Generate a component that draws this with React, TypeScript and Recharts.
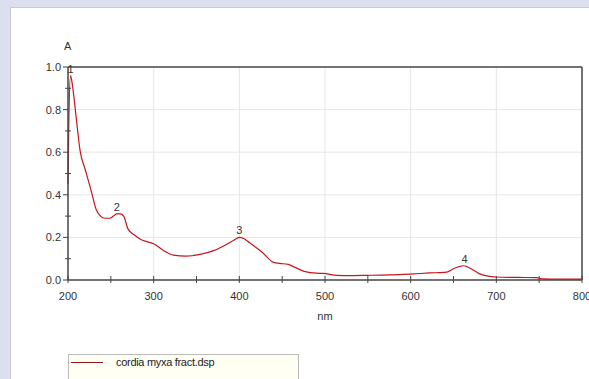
import { LineChart, Line, XAxis, YAxis, ReferenceLine, ReferenceDot, Label } from 'recharts';

// wavelength (nm) and absorbance
const wavelengths = [200, 201, 203, 205, 208, 211, 214, 220, 227, 233, 238, 243, 249, 253, 257, 261, 265, 270, 278, 285, 292, 300, 311, 323, 338, 354, 370, 385, 393, 400, 405, 412, 426, 440, 447, 457, 463, 470, 477, 490, 498, 514, 530, 549, 575, 599, 622, 642, 650, 656, 662, 667, 673, 680, 689, 700, 725, 747, 754, 775, 800];
const absorbance = [0.45, 0.75, 0.96, 0.92, 0.82, 0.71, 0.61, 0.52, 0.42, 0.33, 0.3, 0.29, 0.29, 0.3, 0.31, 0.31, 0.3, 0.24, 0.21, 0.19, 0.18, 0.17, 0.14, 0.117, 0.112, 0.12, 0.138, 0.167, 0.185, 0.2, 0.195, 0.175, 0.133, 0.083, 0.078, 0.073, 0.063, 0.05, 0.039, 0.032, 0.031, 0.022, 0.021, 0.022, 0.024, 0.028, 0.033, 0.037, 0.053, 0.062, 0.067, 0.06, 0.047, 0.03, 0.019, 0.014, 0.012, 0.011, 0.005, 0.004, 0.004];

const peakNm = [203, 257, 400, 663];
const peakA = [0.96, 0.31, 0.2, 0.067];
const peakLabels = ['1', '2', '3', '4'];

const xTicks = [200, 250, 300, 350, 400, 450, 500, 550, 600, 650, 700, 750, 800];
const yTicks = [0, 0.1, 0.2, 0.3, 0.4, 0.5, 0.6, 0.7, 0.8, 0.9, 1.0];
const xGrid = [300, 400, 500, 600, 700];
const yGrid = [0.2, 0.4, 0.6, 0.8];

const seriesName = 'cordia myxa fract.dsp';

const data = wavelengths.map((nm, i) => ({ nm, a: absorbance[i] }));

const FONT = '"Liberation Sans", Arial, sans-serif';
const AXIS = '#444';
const CURVE = '#c8161d';

const XTick = (props: any) => {
  const { x, y, payload } = props;
  const major = payload.value % 100 === 0;
  return (
    <g>
      <line x1={x} y1={y - 4} x2={x} y2={y + 3} stroke={AXIS} />
      {major && (
        <text x={x} y={y + 20} textAnchor="middle" fontSize={11} fill="#333" fontFamily={FONT}>
          {payload.value}
        </text>
      )}
    </g>
  );
};

const YTick = (props: any) => {
  const { x, y, payload } = props;
  const major = Math.round(payload.value * 10) % 2 === 0;
  return (
    <g>
      {major ? (
        <line x1={x} y1={y} x2={x - 5} y2={y} stroke={AXIS} />
      ) : (
        <line x1={x - 3} y1={y} x2={x + 3} y2={y} stroke={AXIS} />
      )}
      {major && (
        <text x={x - 7} y={y + 4} textAnchor="end" fontSize={11} fill="#333" fontFamily={FONT}>
          {payload.value.toFixed(1)}
        </text>
      )}
    </g>
  );
};

export default function App() {
  return (
    <div style={{ position: 'absolute', left: 0, top: 0, width: 589, height: 379, background: '#dcdfee', overflow: 'hidden' }}>
      <div style={{ position: 'absolute', left: 10, top: 7, width: 590, height: 380, background: '#fff', border: '1px solid #c8c8d0' }} />
      <div style={{ position: 'absolute', left: 0, top: 0 }}>
        <LineChart width={589} height={379} data={data} margin={{ top: 67, right: 7, bottom: 59, left: 28 }}>
          {xGrid.map((v) => (
            <ReferenceLine key={'gx' + v} x={v} stroke="#e6e6e6" />
          ))}
          {yGrid.map((v) => (
            <ReferenceLine key={'gy' + v} y={v} stroke="#e6e6e6" />
          ))}
          <ReferenceLine y={1.0} stroke={AXIS} strokeWidth={1.5} />
          <ReferenceLine x={800} stroke={AXIS} strokeWidth={1.5} />
          <XAxis
            dataKey="nm"
            type="number"
            domain={[200, 800]}
            ticks={xTicks}
            interval={0}
            tickLine={false}
            tickSize={0}
            tickMargin={0}
            axisLine={{ stroke: AXIS, strokeWidth: 1.5 }}
            tick={<XTick />}
            height={40}
          >
            <Label value="nm" position="insideBottom" offset={0} fontSize={11} fill="#333" fontFamily={FONT} />
          </XAxis>
          <YAxis
            type="number"
            domain={[0, 1]}
            ticks={yTicks}
            interval={0}
            width={40}
            tickLine={false}
            tickSize={0}
            tickMargin={0}
            axisLine={{ stroke: AXIS, strokeWidth: 1.5 }}
            tick={<YTick />}
            allowDataOverflow
          />
          <Line
            type="monotone"
            dataKey="a"
            stroke={CURVE}
            strokeWidth={1.2}
            dot={false}
            isAnimationActive={false}
            name={seriesName}
          />
          {peakNm.map((nm, i) => (
            <ReferenceDot key={'p' + i} x={nm} y={peakA[i]} r={0} stroke="none" fill="none">
              <Label value={peakLabels[i]} position="top" offset={3} fontSize={11} fill="#333" fontFamily={FONT} />
            </ReferenceDot>
          ))}
        </LineChart>
      </div>
      <div style={{ position: 'absolute', left: 64, top: 40, fontFamily: FONT, fontSize: 11, color: '#333' }}>A</div>
      <div
        style={{
          position: 'absolute',
          left: 68,
          top: 354,
          width: 231,
          height: 30,
          background: '#fffff4',
          border: '1px solid #bbb',
          boxSizing: 'border-box',
          fontFamily: FONT,
          fontSize: 11,
          color: '#222',
        }}
      >
        <div style={{ position: 'absolute', left: 2, top: 7, width: 32, height: 0, borderTop: '1px solid #8b1a1a' }} />
        <div style={{ position: 'absolute', left: 47, top: 1, letterSpacing: -0.3 }}>{seriesName}</div>
      </div>
    </div>
  );
}
